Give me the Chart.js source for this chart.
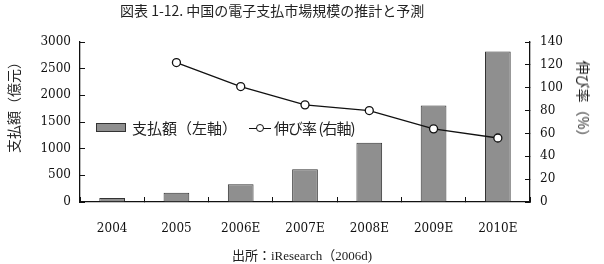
<!DOCTYPE html>
<html>
<head>
<meta charset="utf-8">
<script src="https://cdn.jsdelivr.net/npm/chart.js@4.4.0/dist/chart.umd.min.js"></script>
<style>
  html, body { margin: 0; padding: 0; background: #fff; }
  #wrap { position: relative; width: 604px; height: 264px; }
  .txt { position: absolute; font-family: "Noto Sans CJK JP", sans-serif; color: #222; white-space: nowrap; }
  #title { left: 120px; top: 0px; width: 304px; text-align: center; font-size: 14px; }
  #src { left: 0; width: 604px; top: 245px; text-align: center; font-size: 13px; font-family: "Liberation Serif", "Noto Sans CJK JP", serif; }
  #legend { left: 96px; top: 117px; font-size: 15px; display: flex; align-items: center; }
  #ltitle { left: 13px; top: 104px; font-size: 14px; transform: translate(-50%, -50%) rotate(-90deg); }
  #rtitle { left: 584px; top: 102px; font-size: 14px; transform: translate(-50%, -50%) rotate(90deg); }
  .box { display: inline-block; width: 28px; height: 7px; background: #8f8f8f; border: 1px solid #333; margin-right: 6px; }
  .mk { display: inline-block; width: 22px; height: 10px; position: relative; margin: 0 3px 0 12px; }
  .mk:before { content: ""; position: absolute; left: 0; right: 0; top: 5px; border-top: 1.3px solid #111; }
  .mk:after { content: ""; position: absolute; left: 7px; top: 1px; width: 6px; height: 6px; border: 1.3px solid #111; border-radius: 50%; background: #fff; }
  .l2 { letter-spacing: -1px; }
</style>
</head>
<body>
<div id="wrap">
  <canvas id="c" width="604" height="264"></canvas>
  <div id="title" class="txt">図表 1-12. 中国の電子支払市場規模の推計と予測</div>
  <div id="legend" class="txt"><span class="box"></span>支払額（左軸）<span class="mk"></span><span class="l2">伸び率 (右軸)</span></div>
  <div id="ltitle" class="txt">支払額（億元）</div>
  <div id="rtitle" class="txt">伸び率（%）</div>
  <div id="src" class="txt">出所：iResearch（2006d)</div>
</div>
<script>
const years = ['2004', '2005', '2006E', '2007E', '2008E', '2009E', '2010E'];
const payments = [75, 175, 335, 615, 1110, 1810, 2820];
const growth = [null, 122, 101, 85, 80, 64, 56];
const leftTicks = [0, 500, 1000, 1500, 2000, 2500, 3000];
const rightTicks = [0, 20, 40, 60, 80, 100, 120, 140];

const numFont = { family: '"DejaVu Serif", "Liberation Serif", serif', size: 12 };

new Chart(document.getElementById('c'), {
  data: {
    labels: years,
    datasets: [
      {
        type: 'line',
        label: '伸び率 (右軸)',
        data: growth,
        yAxisID: 'y1',
        borderColor: '#111',
        borderWidth: 1.3,
        pointRadius: 4,
        pointBackgroundColor: '#fff',
        pointBorderColor: '#111',
        pointBorderWidth: 1.3,
        order: 0
      },
      {
        type: 'bar',
        label: '支払額 (左軸)',
        data: payments,
        yAxisID: 'y',
        backgroundColor: '#8f8f8f',
        borderColor: '#333',
        borderWidth: 1,
        barPercentage: 0.8,
        categoryPercentage: 0.5,
        order: 1
      }
    ]
  },
  options: {
    responsive: false,
    animation: false,
    layout: { padding: { top: 42, bottom: 0 } },
    plugins: { legend: { display: false }, tooltip: { enabled: false } },
    scales: {
      x: {
        offset: true,
        grid: { offset: true, drawOnChartArea: false, tickLength: -5, color: '#111' },
        border: { color: '#111', width: 1.3 },
        ticks: { color: '#111', font: numFont, padding: 25 },
        afterFit: s => { s.height = 62; }
      },
      y: {
        position: 'left',
        min: 0, max: 3000,
        afterBuildTicks: s => { s.ticks = leftTicks.map(v => ({ value: v })); },
        grid: { drawOnChartArea: false, tickLength: -5, color: '#111' },
        border: { color: '#111', width: 1.3 },
        ticks: { color: '#111', font: numFont, padding: 14, callback: v => String(v) },
        afterFit: s => { s.width = 80; }
      },
      y1: {
        position: 'right',
        min: 0, max: 140,
        afterBuildTicks: s => { s.ticks = rightTicks.map(v => ({ value: v })); },
        grid: { drawOnChartArea: false, tickLength: -5, color: '#111' },
        border: { color: '#111', width: 1.3 },
        ticks: { color: '#111', font: numFont, padding: 15, callback: v => String(v) },
        afterFit: s => { s.width = 74; }
      }
    }
  }
});
</script>
</body>
</html>
